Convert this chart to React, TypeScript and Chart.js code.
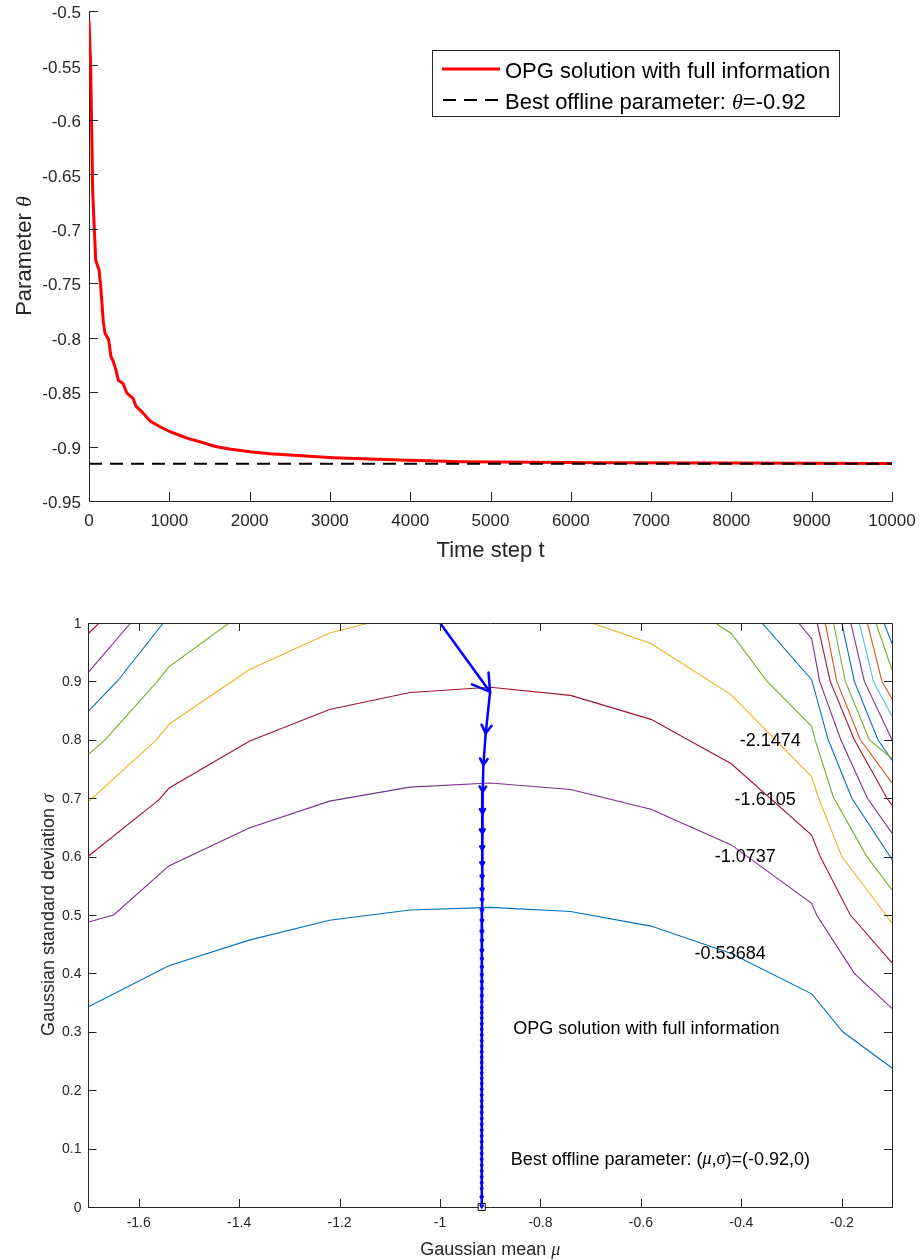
import React, { useEffect, useRef } from "react";
import { Chart, registerables } from "chart.js";

Chart.register(...registerables);

const SANS = '"Liberation Sans", Arial, Helvetica, sans-serif';
const SERIF = '"Liberation Serif", "DejaVu Serif", serif';
const AXIS = "#262626";

// ---------- top chart data ----------
const TIME_STEP = [0, 21, 46, 83, 125, 146, 178, 199, 245, 274, 303, 336, 365, 423, 473, 548, 585, 676, 760, 884, 1009, 1174, 1250, 1382, 1500, 1590, 1750, 2005, 2250, 2503, 2750, 3042, 3500, 3873, 4620, 5500, 6400, 8000, 10000];
const THETA_OPG = [-0.509, -0.551, -0.666, -0.7286, -0.7378, -0.7531, -0.7853, -0.796, -0.802, -0.8175, -0.822, -0.8298, -0.839, -0.842, -0.851, -0.8557, -0.8628, -0.8695, -0.8765, -0.8818, -0.8864, -0.891, -0.893, -0.8956, -0.8983, -0.9002, -0.9022, -0.9048, -0.9065, -0.9078, -0.909, -0.9102, -0.9115, -0.9124, -0.914, -0.9145, -0.9148, -0.9152, -0.9155];
const THETA_BEST = -0.9158;
const TIME_TICKS = [0, 1000, 2000, 3000, 4000, 5000, 6000, 7000, 8000, 9000, 10000];
const THETA_TICKS = [-0.95, -0.9, -0.85, -0.8, -0.75, -0.7, -0.65, -0.6, -0.55, -0.5];

// ---------- bottom chart data ----------
const MU_TICKS = [-1.6, -1.4, -1.2, -1, -0.8, -0.6, -0.4, -0.2];
const SIGMA_TICKS = [0, 0.1, 0.2, 0.3, 0.4, 0.5, 0.6, 0.7, 0.8, 0.9, 1];

// contour lines (null = break)
const C1_MU = [-1.7, -1.54, -1.38, -1.22, -1.06, -0.9, -0.74, -0.58, -0.42, -0.26, -0.198, -0.1];
const C1_SG = [0.343, 0.413, 0.457, 0.491, 0.5085, 0.513, 0.506, 0.481, 0.434, 0.365, 0.3, 0.238];
const C2_MU = [-1.7, -1.65, -1.54, -1.38, -1.22, -1.06, -0.9, -0.74, -0.58, -0.42, -0.26, -0.25, -0.175, -0.1];
const C2_SG = [0.488, 0.5, 0.584, 0.649, 0.695, 0.719, 0.726, 0.715, 0.681, 0.62, 0.52, 0.5, 0.4, 0.34];
const C3_MU = [-1.7, -1.56, -1.54, -1.38, -1.22, -1.06, -0.9, -0.74, -0.58, -0.42, -0.26, -0.243, -0.183, -0.1];
const C3_SG = [0.601, 0.697, 0.717, 0.7975, 0.852, 0.881, 0.89, 0.876, 0.835, 0.759, 0.637, 0.6, 0.5, 0.418];
const C4_MU = [-1.7, -1.566, -1.539, -1.38, -1.22, -1.141, null, -0.698, -0.58, -0.42, -0.26, -0.246, -0.2, -0.112, -0.1];
const C4_SG = [0.694, 0.799, 0.827, 0.92, 0.983, 1.0, null, 1.0, 0.965, 0.877, 0.7365, 0.7, 0.6, 0.5, 0.486];
const C5_MU = [-1.7, -1.667, -1.563, -1.54, -1.42, null, -0.452, -0.42, -0.35, -0.26, -0.253, -0.217, -0.15, -0.1];
const C5_SG = [0.775, 0.8, 0.9, 0.925, 1.0, null, 1.0, 0.982, 0.9015, 0.823, 0.8, 0.702, 0.6, 0.543];
const C6_MU = [-1.7, -1.641, -1.551, null, -0.359, -0.26, -0.227, -0.18, -0.1];
const C6_SG = [0.849, 0.902, 1.0, null, 1.0, 0.903, 0.8, 0.7, 0.595];
const C7_MU = [-1.7, -1.616, null, -0.286, -0.26, -0.244, -0.202, -0.149, -0.1];
const C7_SG = [0.916, 1.0, null, 1.0, 0.973, 0.9, 0.8, 0.7, 0.64];
const C8_MU = [-1.7, -1.679, null, -0.249, -0.223, -0.175, -0.11, -0.1];
const C8_SG = [0.982, 1.0, null, 1.0, 0.9, 0.8, 0.7, 0.688];
const C9_MU = [-0.233, -0.21, -0.163, -0.1];
const C9_SG = [1.0, 0.9, 0.8, 0.726];
const C10_MU = [-0.2165, -0.193, -0.145, -0.1];
const C10_SG = [1.0, 0.9, 0.8, 0.768];
const C11_MU = [-0.2, -0.175, -0.128, -0.1];
const C11_SG = [1.0, 0.9, 0.8, 0.765];
const C12_MU = [-0.182, -0.155, -0.1];
const C12_SG = [1.0, 0.9, 0.8];
const C13_MU = [-0.165, -0.137, -0.1];
const C13_SG = [1.0, 0.9, 0.84];
const C14_MU = [-0.149, -0.12, -0.1];
const C14_SG = [1.0, 0.9, 0.87];
const C15_MU = [-0.132, -0.1];
const C15_SG = [1.0, 0.92];
const C16_MU = [-0.116, -0.1];
const C16_SG = [1.0, 0.965];

const CONTOUR_COLORS = ["#0072BD", "#7E2F8E", "#A2142F", "#EDB120", "#77AC30", "#0072BD", "#7E2F8E", "#A2142F", "#D95319", "#77AC30", "#0072BD", "#7E2F8E", "#4DBEEE", "#D95319", "#77AC30", "#0072BD"];

const CONTOUR_LABELS = ["-0.53684", "-1.0737", "-1.6105", "-2.1474"];
const CONTOUR_LABEL_MU = [-0.4223, -0.3924, -0.3526, -0.3426];
const CONTOUR_LABEL_SG = [0.4332, 0.5986, 0.6966, 0.7975];

// OPG trajectory (gaussian mean, std)
const TRAJ_MU = [-1.0, -0.9004, -0.909, -0.9137, -0.915, -0.9155, -0.9158, -0.916, -0.916, -0.9162, -0.9163, -0.9164, -0.9165, -0.9165, -0.9166, -0.9166, -0.9167, -0.9167, -0.9167, -0.9168, -0.9168, -0.9168, -0.9168, -0.9169, -0.9169, -0.9169, -0.9169, -0.9169, -0.917, -0.917, -0.917, -0.917, -0.917, -0.917, -0.917, -0.917, -0.917, -0.917, -0.917, -0.917, -0.917, -0.917, -0.917, -0.917, -0.917, -0.917, -0.917, -0.917, -0.917, -0.917, -0.917, -0.917, -0.917, -0.917, -0.917, -0.917, -0.917, -0.917, -0.917];
const TRAJ_SG = [1.0, 0.882, 0.811, 0.757, 0.711, 0.674, 0.64, 0.612, 0.585, 0.563, 0.541, 0.524, 0.506, 0.488, 0.469, 0.454, 0.437, 0.423, 0.409, 0.396, 0.384, 0.372, 0.36, 0.35, 0.34, 0.331, 0.322, 0.312, 0.303, 0.293, 0.283, 0.274, 0.264, 0.255, 0.246, 0.237, 0.228, 0.219, 0.21, 0.2, 0.19, 0.18, 0.17, 0.16, 0.15, 0.14, 0.13, 0.12, 0.11, 0.1, 0.09, 0.08, 0.07, 0.06, 0.05, 0.04, 0.03, 0.015, 0.0];
const BEST_MU = [-0.917];
const BEST_SG = [0];

// ---------- helpers ----------
type Seg = { t: string; f: string };

function drawRich(
  ctx: CanvasRenderingContext2D,
  segs: Seg[],
  x: number,
  y: number,
  align: "left" | "center",
  rot: number,
  color: string,
  baseline: CanvasTextBaseline = "alphabetic"
) {
  ctx.save();
  ctx.translate(x, y);
  ctx.rotate(rot);
  ctx.fillStyle = color;
  ctx.textBaseline = baseline;
  ctx.textAlign = "left";
  let w = 0;
  for (const s of segs) {
    ctx.font = s.f;
    w += ctx.measureText(s.t).width;
  }
  let cx = align === "center" ? -w / 2 : 0;
  for (const s of segs) {
    ctx.font = s.f;
    ctx.fillText(s.t, cx, 0);
    cx += ctx.measureText(s.t).width;
  }
  ctx.restore();
}

function fmt(v: number) {
  return String(+v.toFixed(2));
}

function zeroPad(s: any) {
  s.paddingLeft = 0;
  s.paddingRight = 0;
  s.paddingTop = 0;
  s.paddingBottom = 0;
}

function drawInwardTicks(chart: any, len: number, box: boolean) {
  const { ctx, chartArea: a, scales } = chart;
  const xs = scales.x;
  const ys = scales.y;
  ctx.save();
  ctx.strokeStyle = AXIS;
  ctx.lineWidth = 1;
  ctx.beginPath();
  for (const t of xs.ticks) {
    const px = Math.round(xs.getPixelForValue(t.value)) + 0.5;
    ctx.moveTo(px, a.bottom);
    ctx.lineTo(px, a.bottom - len);
    if (box) {
      ctx.moveTo(px, a.top);
      ctx.lineTo(px, a.top + len);
    }
  }
  for (const t of ys.ticks) {
    const py = Math.round(ys.getPixelForValue(t.value)) + 0.5;
    ctx.moveTo(a.left, py);
    ctx.lineTo(a.left + len, py);
    if (box) {
      ctx.moveTo(a.right, py);
      ctx.lineTo(a.right - len, py);
    }
  }
  if (box) {
    const t = Math.round(a.top) + 0.5;
    const r = Math.round(a.right) + 0.5;
    ctx.moveTo(a.left, t);
    ctx.lineTo(r, t);
    ctx.lineTo(r, a.bottom);
  }
  ctx.stroke();
  ctx.restore();
}

function zip(xs: (number | null)[], ys: (number | null)[]) {
  return xs.map((x, i) => ({ x: x as number, y: ys[i] as number }));
}

// ---------- top chart ----------
function makeTop(canvas: HTMLCanvasElement) {
  const decor = {
    id: "topDecor",
    afterDraw(chart: any) {
      const { ctx, chartArea: a } = chart;
      drawInwardTicks(chart, 9, false);
      const f22 = `22px ${SANS}`;
      const it22 = `italic 22px ${SERIF}`;
      drawRich(ctx, [{ t: "Time step t", f: f22 }], (a.left + a.right) / 2, 556.5, "center", 0, AXIS);
      drawRich(ctx, [{ t: "Parameter ", f: f22 }, { t: "θ", f: it22 }], 30.5, (a.top + a.bottom) / 2, "center", -Math.PI / 2, AXIS);
      // legend
      ctx.save();
      ctx.fillStyle = "#fff";
      ctx.fillRect(432.5, 50.5, 407, 66);
      ctx.strokeStyle = AXIS;
      ctx.lineWidth = 1;
      ctx.strokeRect(432.5, 50.5, 407, 66);
      ctx.strokeStyle = "#ff0000";
      ctx.lineWidth = 3;
      ctx.beginPath();
      ctx.moveTo(442, 69);
      ctx.lineTo(500, 69);
      ctx.stroke();
      ctx.strokeStyle = "#000";
      ctx.lineWidth = 2;
      ctx.setLineDash([13, 8]);
      ctx.beginPath();
      ctx.moveTo(443, 100);
      ctx.lineTo(500, 100);
      ctx.stroke();
      ctx.restore();
      drawRich(ctx, [{ t: "OPG solution with full information", f: f22 }], 505, 77.5, "left", 0, "#000");
      drawRich(ctx, [{ t: "Best offline parameter: ", f: f22 }, { t: "θ", f: it22 }, { t: "=-0.92", f: f22 }], 505, 108.5, "left", 0, "#000");
    },
  };
  return new Chart(canvas, {
    type: "scatter",
    data: {
      datasets: [
        {
          label: "Best offline parameter",
          data: [
            { x: TIME_TICKS[0], y: THETA_BEST },
            { x: TIME_TICKS[TIME_TICKS.length - 1], y: THETA_BEST },
          ],
          showLine: true,
          borderColor: "#000",
          borderWidth: 2,
          borderDash: [13, 8],
          pointRadius: 0,
          pointHoverRadius: 0,
          order: 0,
        },
        {
          label: "OPG solution with full information",
          data: zip(TIME_STEP, THETA_OPG),
          showLine: true,
          borderColor: "#ff0000",
          borderWidth: 3,
          pointRadius: 0,
          pointHoverRadius: 0,
          order: 1,
        },
      ],
    },
    options: {
      animation: false,
      responsive: false,
      devicePixelRatio: 1,
      events: [],
      layout: { autoPadding: false, padding: { left: 0, top: 11, right: 29, bottom: 0 } },
      plugins: { legend: { display: false }, tooltip: { enabled: false } },
      scales: {
        x: {
          type: "linear",
          min: 0,
          max: 10000,
          afterFit: (s: any) => {
            s.height = 79;
            zeroPad(s);
          },
          afterBuildTicks: (s: any) => {
            s.ticks = TIME_TICKS.map((v) => ({ value: v }));
          },
          grid: { display: false, drawTicks: false },
          border: { display: true, color: AXIS, width: 1 },
          ticks: { padding: 10, color: AXIS, font: { family: SANS, size: 17 }, autoSkip: false, maxRotation: 0, callback: (v: any) => fmt(+v) },
        },
        y: {
          type: "linear",
          min: -0.95,
          max: -0.5,
          afterFit: (s: any) => {
            s.width = 89;
            zeroPad(s);
          },
          afterBuildTicks: (s: any) => {
            s.ticks = THETA_TICKS.map((v) => ({ value: v }));
          },
          grid: { display: false, drawTicks: false },
          border: { display: true, color: AXIS, width: 1 },
          ticks: { padding: 8, labelOffset: 2.5, color: AXIS, font: { family: SANS, size: 17 }, autoSkip: false, callback: (v: any) => fmt(+v) },
        },
      },
    },
    plugins: [decor],
  } as any);
}

// ---------- bottom chart ----------
function makeBottom(canvas: HTMLCanvasElement) {
  const contours: [(number | null)[], (number | null)[]][] = [
    [C1_MU, C1_SG], [C2_MU, C2_SG], [C3_MU, C3_SG], [C4_MU, C4_SG],
    [C5_MU, C5_SG], [C6_MU, C6_SG], [C7_MU, C7_SG], [C8_MU, C8_SG],
    [C9_MU, C9_SG], [C10_MU, C10_SG], [C11_MU, C11_SG], [C12_MU, C12_SG],
    [C13_MU, C13_SG], [C14_MU, C14_SG], [C15_MU, C15_SG], [C16_MU, C16_SG],
  ];
  const contourSets = contours.map(([mx, sy], i) => ({
    label: "contour" + i,
    data: zip(mx, sy),
    showLine: true,
    spanGaps: false,
    borderColor: CONTOUR_COLORS[i],
    borderWidth: 1.1,
    pointRadius: 0,
    pointHoverRadius: 0,
    order: 3,
  }));
  const decor = {
    id: "bottomDecor",
    afterDatasetsDraw(chart: any) {
      const { ctx } = chart;
      const idx = chart.data.datasets.findIndex((d: any) => d.label === "OPG solution with full information");
      const pts = chart.getDatasetMeta(idx).data;
      ctx.save();
      ctx.strokeStyle = "#0000ff";
      ctx.lineWidth = 2.5;
      ctx.lineCap = "round";
      for (let i = 1; i < pts.length; i++) {
        const p0 = pts[i - 1];
        const p1 = pts[i];
        const dx = p1.x - p0.x;
        const dy = p1.y - p0.y;
        const L = Math.hypot(dx, dy);
        if (L < 0.5) continue;
        const h = L * 0.23;
        const ang = Math.atan2(dy, dx);
        ctx.beginPath();
        ctx.moveTo(p1.x - h * Math.cos(ang - 0.55), p1.y - h * Math.sin(ang - 0.55));
        ctx.lineTo(p1.x, p1.y);
        ctx.lineTo(p1.x - h * Math.cos(ang + 0.55), p1.y - h * Math.sin(ang + 0.55));
        ctx.stroke();
      }
      ctx.restore();
    },
    afterDraw(chart: any) {
      const { ctx, chartArea: a, scales } = chart;
      drawInwardTicks(chart, 8, true);
      const f18 = `18px ${SANS}`;
      const it18 = `italic 18px ${SERIF}`;
      drawRich(ctx, [{ t: "Gaussian mean ", f: f18 }, { t: "μ", f: it18 }], (a.left + a.right) / 2, 674.5, "center", 0, AXIS);
      drawRich(ctx, [{ t: "Gaussian standard deviation ", f: f18 }, { t: "σ", f: it18 }], 54, (a.top + a.bottom) / 2, "center", -Math.PI / 2, AXIS);
      for (let i = 0; i < CONTOUR_LABELS.length; i++) {
        drawRich(ctx, [{ t: CONTOUR_LABELS[i], f: f18 }], scales.x.getPixelForValue(CONTOUR_LABEL_MU[i]), scales.y.getPixelForValue(CONTOUR_LABEL_SG[i]), "center", 0, "#000", "middle");
      }
      drawRich(ctx, [{ t: "OPG solution with full information", f: f18 }], scales.x.getPixelForValue(-0.854), scales.y.getPixelForValue(0.3044), "left", 0, "#000", "middle");
      drawRich(
        ctx,
        [
          { t: "Best offline parameter: (", f: f18 },
          { t: "μ", f: it18 },
          { t: ",", f: f18 },
          { t: "σ", f: it18 },
          { t: ")=(-0.92,0)", f: f18 },
        ],
        scales.x.getPixelForValue(-0.8592),
        scales.y.getPixelForValue(0.0809),
        "left",
        0,
        "#000",
        "middle"
      );
    },
  };
  return new Chart(canvas, {
    type: "scatter",
    data: {
      datasets: [
        {
          label: "Best offline parameter",
          data: zip(BEST_MU, BEST_SG),
          pointStyle: "rect",
          pointRadius: 5,
          pointHoverRadius: 5,
          pointBorderColor: "#000",
          pointBackgroundColor: "#fff",
          pointBorderWidth: 1,
          clip: false,
          order: 0,
        },
        {
          label: "OPG solution with full information",
          data: zip(TRAJ_MU, TRAJ_SG),
          showLine: true,
          borderColor: "#0000ff",
          borderWidth: 2.5,
          pointRadius: 0,
          pointHoverRadius: 0,
          order: 1,
        },
        ...contourSets,
      ],
    },
    options: {
      animation: false,
      responsive: false,
      devicePixelRatio: 1,
      events: [],
      layout: { autoPadding: false, padding: { left: 0, top: 43, right: 29, bottom: 0 } },
      plugins: { legend: { display: false }, tooltip: { enabled: false } },
      scales: {
        x: {
          type: "linear",
          min: -1.7,
          max: -0.1,
          afterFit: (s: any) => {
            s.height = 53;
            zeroPad(s);
          },
          afterBuildTicks: (s: any) => {
            s.ticks = MU_TICKS.map((v) => ({ value: v }));
          },
          grid: { display: false, drawTicks: false },
          border: { display: true, color: AXIS, width: 1 },
          ticks: { padding: 8, color: AXIS, font: { family: SANS, size: 14 }, autoSkip: false, maxRotation: 0, callback: (v: any) => fmt(+v) },
        },
        y: {
          type: "linear",
          min: 0,
          max: 1,
          afterFit: (s: any) => {
            s.width = 88.5;
            zeroPad(s);
          },
          afterBuildTicks: (s: any) => {
            s.ticks = SIGMA_TICKS.map((v) => ({ value: v }));
          },
          grid: { display: false, drawTicks: false },
          border: { display: true, color: AXIS, width: 1 },
          ticks: { padding: 7, labelOffset: 0.7, color: AXIS, font: { family: SANS, size: 14 }, autoSkip: false, callback: (v: any) => fmt(+v) },
        },
      },
    },
    plugins: [decor],
  } as any);
}

function ChartCanvas(props: { top: number; width: number; height: number; make: (c: HTMLCanvasElement) => Chart }) {
  const ref = useRef<HTMLCanvasElement>(null);
  useEffect(() => {
    const chart = props.make(ref.current as HTMLCanvasElement);
    return () => chart.destroy();
  }, []);
  return (
    <canvas
      ref={ref}
      width={props.width}
      height={props.height}
      style={{ position: "absolute", left: 0, top: props.top, width: props.width, height: props.height }}
    />
  );
}

export default function App() {
  return (
    <div style={{ position: "absolute", left: 0, top: 0, width: 921, height: 1260, background: "#fff", overflow: "hidden" }}>
      <ChartCanvas top={0} width={921} height={580} make={makeTop} />
      <ChartCanvas top={580} width={921} height={680} make={makeBottom} />
    </div>
  );
}
